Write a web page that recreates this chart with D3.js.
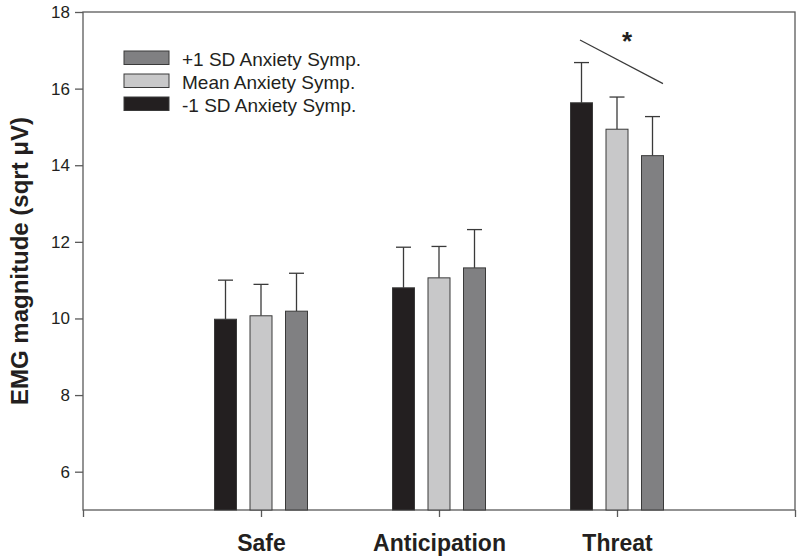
<!DOCTYPE html>
<html><head><meta charset="utf-8">
<script src="https://cdn.jsdelivr.net/npm/d3@7"></script>
<style>body{margin:0;background:#fff}svg{display:block}text{font-family:"Liberation Sans",Arial,sans-serif}</style>
</head><body><svg id="c" width="800" height="560"></svg>
<script>
const categories = ["Safe", "Anticipation", "Threat"];
const seriesNames = ["-1 SD Anxiety Symp.", "Mean Anxiety Symp.", "+1 SD Anxiety Symp."];
const lowValues = [9.98, 10.80, 15.63];
const meanValues = [10.07, 11.06, 14.94];
const highValues = [10.19, 11.32, 14.25];
const lowErrTop = [11.00, 11.86, 16.68];
const meanErrTop = [10.89, 11.88, 15.78];
const highErrTop = [11.18, 12.32, 15.27];
const yTicks = [6, 8, 10, 12, 14, 16, 18];
const colors = ["#231f20", "#c8c8c9", "#808082"];
const legendOrder = [2, 1, 0];

const series = [
  {name: seriesNames[0], values: lowValues, err: lowErrTop},
  {name: seriesNames[1], values: meanValues, err: meanErrTop},
  {name: seriesNames[2], values: highValues, err: highErrTop}
];

const svg = d3.select("#c");
const L = 83, R = 795, T = 12, B = 510;
const x = d3.scaleLinear().domain([0, 4]).range([L, R]);
const y = d3.scaleLinear().domain([5, 18]).range([B, T]);
const barW = 22, off = 35.5;
const axisColor = "#5a5a5a";

// frame
svg.append("rect").attr("x", L).attr("y", T).attr("width", R - L).attr("height", B - T)
  .attr("fill", "none").attr("stroke", axisColor).attr("stroke-width", 1.3);

// y axis
const yAxis = svg.append("g").attr("transform", `translate(${L},0)`)
  .call(d3.axisLeft(y).tickValues(yTicks).tickSize(8).tickPadding(5).tickFormat(d3.format("d")));
yAxis.select(".domain").remove();
yAxis.selectAll("line").attr("stroke", axisColor).attr("stroke-width", 1.3);
yAxis.selectAll("text").attr("font-size", 17).attr("fill", "#231f20").attr("font-family", "Liberation Sans, Arial, sans-serif");

// x axis
const xAxis = svg.append("g").attr("transform", `translate(0,${B})`)
  .call(d3.axisBottom(x).tickValues([0, 1, 2, 3, 4]).tickSize(7).tickPadding(18)
    .tickFormat(d => (d >= 1 && d <= 3) ? categories[d - 1] : ""));
xAxis.select(".domain").remove();
xAxis.selectAll("line").attr("stroke", axisColor).attr("stroke-width", 1.3);
xAxis.selectAll("text").attr("font-size", 23).attr("font-weight", "bold").attr("fill", "#231f20")
  .attr("font-family", "Liberation Sans, Arial, sans-serif");

// y label
svg.append("text").attr("transform", `translate(28,261) rotate(-90)`).attr("text-anchor", "middle")
  .attr("font-size", 24).attr("font-weight", "bold").attr("fill", "#231f20")
  .text("EMG magnitude (sqrt \u03bcV)");

// bars + error bars
series.forEach((s, si) => {
  const g = svg.append("g");
  categories.forEach((c, ci) => {
    const cx = x(ci + 1) + (si - 1) * off;
    g.append("line").attr("x1", cx).attr("x2", cx).attr("y1", y(s.values[ci])).attr("y2", y(s.err[ci]))
      .attr("stroke", "#3a3a3a").attr("stroke-width", 1.3);
    g.append("line").attr("x1", cx - 7.5).attr("x2", cx + 7.5).attr("y1", y(s.err[ci])).attr("y2", y(s.err[ci]))
      .attr("stroke", "#3a3a3a").attr("stroke-width", 1.3);
    g.append("rect").attr("x", cx - barW / 2).attr("y", y(s.values[ci]))
      .attr("width", barW).attr("height", y(5) - y(s.values[ci]))
      .attr("fill", colors[si]).attr("stroke", "#3a3a3a").attr("stroke-width", 1);
  });
});

// legend
const legend = svg.append("g");
legendOrder.forEach((si, i) => {
  const ly = 51 + i * 23;
  legend.append("rect").attr("x", 124).attr("y", ly).attr("width", 45).attr("height", 13.5)
    .attr("fill", colors[si]).attr("stroke", "#3a3a3a").attr("stroke-width", 1);
  legend.append("text").attr("x", 182).attr("y", ly + 14.5).attr("font-size", 19).attr("fill", "#231f20")
    .text(seriesNames[si]);
});

// significance annotation
const tx = x(3);
svg.append("line").attr("x1", tx - 37).attr("y1", y(17.27)).attr("x2", tx + 46).attr("y2", y(16.13))
  .attr("stroke", "#3a3a3a").attr("stroke-width", 1.2);
svg.append("text").attr("x", tx + 10).attr("y", 50).attr("text-anchor", "middle")
  .attr("font-size", 26).attr("font-weight", "bold").attr("fill", "#231f20").text("*");
</script></body></html>
